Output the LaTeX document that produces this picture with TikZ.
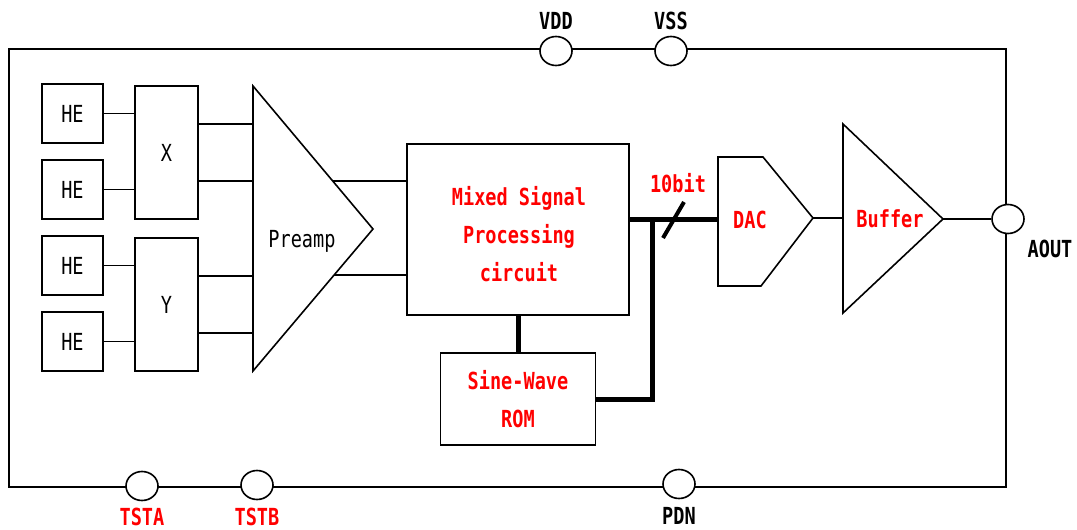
\documentclass[tikz,border=0pt]{standalone}
\usepackage{fontspec}
\newfontfamily\blkfont[FakeStretch=0.79]{DejaVu Sans Mono}
\usetikzlibrary{shapes.geometric, calc, positioning}

\tikzset{
	box/.style={draw, line width=1.6pt, inner sep=0pt, font=\blkfont\fontsize{23.5}{27}\selectfont},
	txt/.style={font=\blkfont\fontsize{23.5}{27}\selectfont},
	redtxt/.style={text=red, align=center, font=\blkfont\bfseries\fontsize{23.5}{38}\selectfont},
	pin/.style={draw, ellipse, fill=white, line width=1.6pt, minimum width=32pt, minimum height=29pt, inner sep=0pt},
	pinlbl/.style={font=\blkfont\bfseries\fontsize{23.5}{27}\selectfont},
	wire/.style={line width=1.6pt},
	bus/.style={line width=5pt},
}

\begin{document}
\begin{tikzpicture}[x=1pt,y=-1pt]
	\useasboundingbox (0,0) rectangle (1077,530);
	\draw[wire] (9,49) rectangle (1006,487);

	\node[box, minimum width=61pt, minimum height=59pt] (he1) at (72.5,113.5) {HE};
	\node[box, minimum width=61pt, minimum height=59pt] (he2) at (72.5,189.5) {HE};
	\node[box, minimum width=61pt, minimum height=59pt] (he3) at (72.5,265.5) {HE};
	\node[box, minimum width=61pt, minimum height=59pt] (he4) at (72.5,341.5) {HE};
	\node[box, minimum width=63pt, minimum height=133pt] (xsel) at (166.5,152.5) {X};
	\node[box, minimum width=63pt, minimum height=133pt] (ysel) at (166.5,304.5) {Y};

	\draw[wire] (he1.east) -- (he1.east -| xsel.west);
	\draw[wire] (he2.east) -- (he2.east -| xsel.west);
	\draw[wire] (he3.east) -- (he3.east -| ysel.west);
	\draw[wire] (he4.east) -- (he4.east -| ysel.west);

	\coordinate (pa-top) at (253,86);
	\coordinate (pa-tip) at (373,229);
	\coordinate (pa-bot) at (253,371);
	\draw[wire, line join=miter] (pa-top) -- (pa-tip) -- (pa-bot) -- cycle;
	\node[txt] (preamp) at (302,241) {Preamp};

	\coordinate (xo1) at ([yshift=28.5pt]xsel.east);
	\coordinate (xo2) at ([yshift=-28.5pt]xsel.east);
	\coordinate (yo1) at ([yshift=28.5pt]ysel.east);
	\coordinate (yo2) at ([yshift=-28.5pt]ysel.east);
	\draw[wire] (xo1) -- (xo1 -| pa-top);
	\draw[wire] (xo2) -- (xo2 -| pa-top);
	\draw[wire] (yo1) -- (yo1 -| pa-top);
	\draw[wire] (yo2) -- (yo2 -| pa-top);

	\node[box, minimum width=222pt, minimum height=171pt] (msp) at (518,229.5) {};
	\node[redtxt] (msp-txt) at (519,234) {Mixed Signal\\Processing\\circuit};
	\node[box, redtxt, minimum width=155pt, minimum height=92pt] (rom) at (518,399) {Sine-Wave\\ROM};

	\coordinate (pa-o1) at ($(pa-top)!0.664!(pa-tip)$);
	\coordinate (pa-o2) at ($(pa-tip)!0.324!(pa-bot)$);
	\draw[wire] (pa-o1) -- (pa-o1 -| msp.west);
	\draw[wire] (pa-o2) -- (pa-o2 -| msp.west);

	\draw[bus] (msp.south) -- (rom.north);

	\coordinate (dac-a) at (718,157);
	\coordinate (dac-b) at (763,157);
	\coordinate (dac-tip) at (813,218);
	\coordinate (dac-c) at (761,286);
	\coordinate (dac-d) at (718,286);
	\draw[wire] (dac-a) -- (dac-b) -- (dac-tip) -- (dac-c) -- (dac-d) -- cycle;
	\node[redtxt] (dac) at (750,220) {DAC};

	\coordinate (dac-in) at (718,219);
	\coordinate (tap) at (652,219);
	\draw[bus] (msp.east |- dac-in) -- (dac-in);
	\draw[bus, line join=miter] (rom.east) -- (rom.east -| tap) -- ([yshift=-2.5pt]tap);
	\coordinate (sl-a) at (663,238);
	\coordinate (sl-b) at (684,202);
	\draw[line width=4pt] (sl-a) -- (sl-b);
	\node[redtxt] (nbit) at (678,183) {10bit};

	\coordinate (buf-top) at (843,124);
	\coordinate (buf-tip) at (943,219);
	\coordinate (buf-bot) at (843,313);
	\draw[wire, line join=miter] (buf-top) -- (buf-tip) -- (buf-bot) -- cycle;
	\node[redtxt] (buf) at (890,219) {Buffer};
	\draw[wire] (dac-tip) -- (dac-tip -| buf-top);

	\node[pin] (aout) at (1008,219) {};
	\draw[wire] (buf-tip) -- (aout.west);
	\node[pinlbl] (aout-lbl) at (1050,249) {AOUT};

	\node[pin] (vdd) at (556,51) {};
	\node[pin] (vss) at (671,51) {};
	\node[pinlbl] (vdd-lbl) at (556,21) {VDD};
	\node[pinlbl] (vss-lbl) at (671,21) {VSS};

	\node[pin] (tsta) at (142,486) {};
	\node[pin] (tstb) at (257,485) {};
	\node[pin] (pdn) at (679,484) {};
	\node[pinlbl, text=red] (tsta-lbl) at (142,517) {TSTA};
	\node[pinlbl, text=red] (tstb-lbl) at (257,517) {TSTB};
	\node[pinlbl] (pdn-lbl) at (679,516) {PDN};
\end{tikzpicture}
\end{document}
